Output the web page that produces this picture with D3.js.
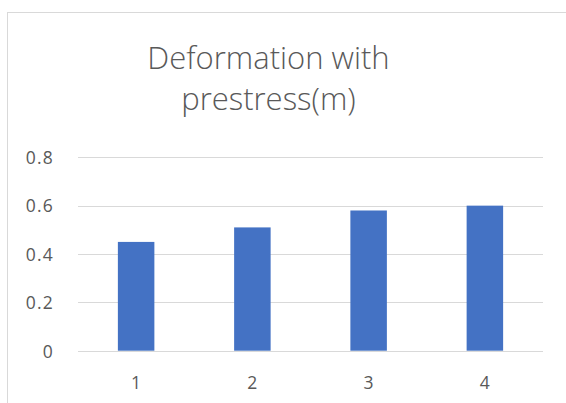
<!DOCTYPE html>
<html>
<head>
<meta charset="utf-8">
<script src="https://cdn.jsdelivr.net/npm/d3@7"></script>
<style>
  html, body { margin: 0; padding: 0; background: #fff; }
  svg { display: block; }
  text { font-family: "Open Sans", "Noto Sans", sans-serif; fill: #595959; }
</style>
</head>
<body>
<svg id="chart" width="566" height="403"></svg>
<script>
// Deformation values per case
const categories = ["1", "2", "3", "4"];
const deformation = [0.45, 0.51, 0.58, 0.60];
const yTicks = [0, 0.2, 0.4, 0.6, 0.8];
const titleLines = ["Deformation with", "prestress(m)"];

const svg = d3.select("#chart");
const W = 566, H = 403;
const plot = { left: 78, right: 543, top: 157.3, bottom: 350.7 };

// outer frame of the chart area
svg.append("rect")
  .attr("x", 7.5).attr("y", 12.5)
  .attr("width", W).attr("height", H)
  .attr("fill", "#fff")
  .attr("stroke", "#d9d9d9").attr("stroke-width", 1);

const x = d3.scaleBand()
  .domain(categories)
  .range([plot.left, plot.right])
  .paddingInner(0.686)
  .paddingOuter(0.343);

const y = d3.scaleLinear()
  .domain([0, 0.8])
  .range([plot.bottom, plot.top]);

const fmt = d => d === 0 ? "0" : d3.format(".1f")(d);

// horizontal gridlines
svg.append("g")
  .selectAll("line")
  .data(yTicks)
  .join("line")
  .attr("x1", plot.left).attr("x2", plot.right)
  .attr("y1", d => Math.round(y(d)) + 0.5)
  .attr("y2", d => Math.round(y(d)) + 0.5)
  .attr("stroke", "#d9d9d9").attr("stroke-width", 1.2);

// y axis labels
svg.append("g")
  .selectAll("text")
  .data(yTicks)
  .join("text")
  .attr("x", 54)
  .attr("y", d => y(d) + 6.8)
  .attr("text-anchor", "end")
  .attr("font-size", 17.5)
  .attr("letter-spacing", 1.2)
  .text(fmt);

// bars
svg.append("g")
  .selectAll("rect")
  .data(deformation)
  .join("rect")
  .attr("x", (d, i) => x(categories[i]))
  .attr("width", x.bandwidth())
  .attr("y", d => y(d))
  .attr("height", d => y(0) - y(d))
  .attr("fill", "#4472c4");

// x axis labels
svg.append("g")
  .selectAll("text")
  .data(categories)
  .join("text")
  .attr("x", d => x(d) + x.bandwidth() / 2)
  .attr("y", 389)
  .attr("text-anchor", "middle")
  .attr("font-size", 17.5)
  .text(d => d);

// title
svg.append("g")
  .selectAll("text")
  .data(titleLines)
  .join("text")
  .attr("x", 268.5)
  .attr("y", (d, i) => 69 + i * 41)
  .attr("text-anchor", "middle")
  .attr("font-size", 31)
  .attr("font-weight", 300)
  .text(d => d);
</script>
</body>
</html>
